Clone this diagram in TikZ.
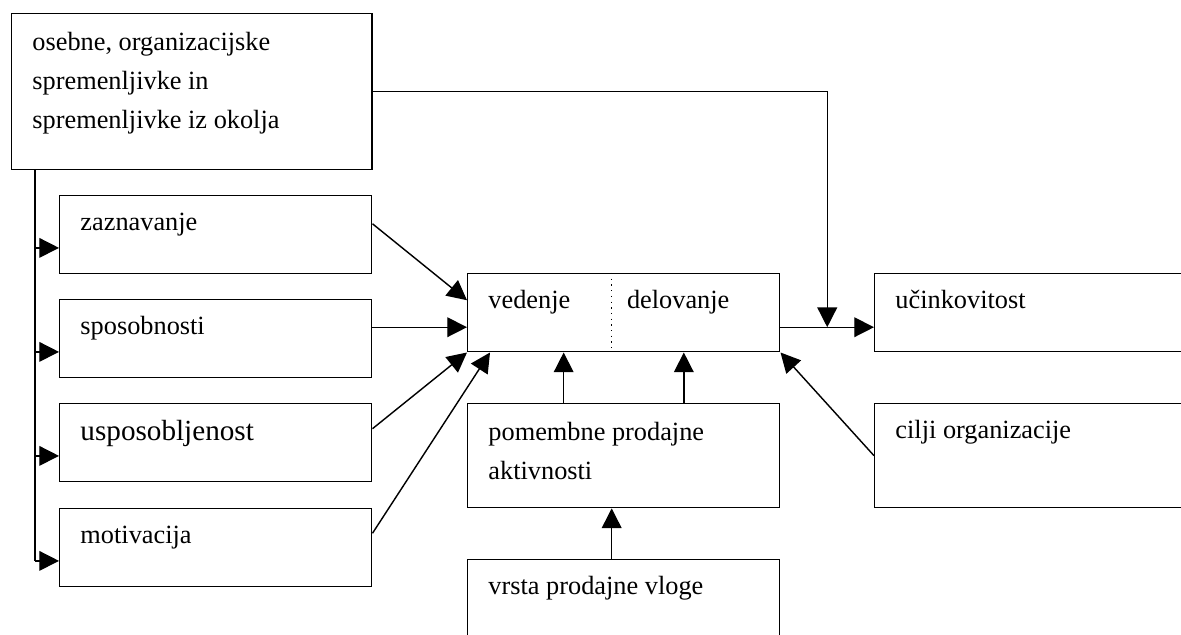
\documentclass[tikz,border=0pt]{standalone}
\usepackage{fontspec}
\setmainfont{Liberation Serif}
\usetikzlibrary{arrows.meta,calc}

\tikzset{
  box/.style={draw, line width=0.65pt, anchor=north west, inner sep=0pt,
    minimum width=142.3pt, minimum height=35.6pt},
  txt/.style={anchor=base west, inner sep=0pt, align=left,
    font=\fontsize{12}{17.8}\selectfont},
  arr/.style={-{Triangle[length=9pt,width=9pt]}, line width=0.65pt},
}

\begin{document}
\begin{tikzpicture}[x=0.456pt, y=-0.456pt]
    \clip (0,0) rectangle (1181,635);
    % boxes
    \node[box, minimum width=164.2pt, minimum height=71.1pt] (osebne) at (11,13) {};
    \node[box] (zazn) at (59,195) {};
    \node[box] (spos) at (59,299) {};
    \node[box] (usp) at (59,403) {};
    \node[box] (motiv) at (59,508) {};
    \node[box] (beh) at (467,273) {};
    \node[box, minimum height=47.4pt] (akt) at (467,403) {};
    \node[box, minimum height=46pt] (vloga) at (467,559) {};
    \node[box, minimum width=150.5pt] (ucin) at (874,273) {};
    \node[box, minimum width=150.5pt, minimum height=47.4pt] (cilji) at (874,403) {};
    % texts (base is the last line)
    \node[txt] (osebne-t) at ([shift={(9.6pt,-52.5pt)}]osebne.north west)
        {osebne, organizacijske\\spremenljivke in\\spremenljivke iz okolja};
    \node[txt] (zazn-t) at ([shift={(9.6pt,-16.4pt)}]zazn.north west) {zaznavanje};
    \node[txt] (spos-t) at ([shift={(9.6pt,-16.4pt)}]spos.north west) {sposobnosti};
    \node[txt, font=\fontsize{13.3}{16}\selectfont] (usp-t)
        at ([shift={(9.6pt,-17.3pt)}]usp.north west) {usposobljenost};
    \node[txt] (motiv-t) at ([shift={(9.6pt,-16.2pt)}]motiv.north west) {motivacija};
    \node[txt] (beh-t) at ([shift={(9.6pt,-16.4pt)}]beh.north west) {vedenje};
    \node[txt] (delo-t) at ([shift={(1.3pt,-16.4pt)}]beh.north) {delovanje};
    \node[txt] (akt-t) at ([shift={(9.6pt,-34.7pt)}]akt.north west)
        {pomembne prodajne\\aktivnosti};
    \node[txt] (vloga-t) at ([shift={(9.6pt,-16.4pt)}]vloga.north west) {vrsta prodajne vloge};
    \node[txt] (ucin-t) at ([shift={(9.6pt,-16pt)}]ucin.north west) {učinkovitost};
    \node[txt] (cilji-t) at ([shift={(9.6pt,-16pt)}]cilji.north west) {cilji organizacije};
    % divider in the middle box
    \draw[dotted, line width=0.6pt] ([xshift=-5.5pt]beh.north) -- ([xshift=-5.5pt]beh.south);
    % trunk on the left
    \coordinate (trunk) at ([xshift=10.9pt]osebne.south west);
    \foreach \b in {zazn,spos,usp,motiv}
        \coordinate (\b-in) at ([yshift=-6pt]\b.west);
    \draw[line width=0.65pt] (trunk) -- (trunk |- motiv-in);
    \foreach \b in {zazn,spos,usp,motiv}
        \draw[arr] (trunk |- \b-in) -- (\b-in);
    % into the middle box
    \coordinate (beh-in) at ([yshift=-6.6pt]beh.west);
    \draw[arr] ([yshift=5pt]zazn.east) -- ([yshift=5.7pt]beh.west);
    \draw[arr] (spos.east |- beh-in) -- (beh-in);
    \draw[arr] ([yshift=6.4pt]usp.east) -- (beh.south west);
    \draw[arr] ([yshift=6.6pt]motiv.east) -- ([xshift=10.5pt]beh.south west);
    \draw[arr] ([xshift=-27.4pt]akt.north) -- ([xshift=-27.4pt]beh.south);
    \draw[arr] ([xshift=27.4pt]akt.north) -- ([xshift=27.4pt]beh.south);
    \draw[arr] ([xshift=-5.5pt]vloga.north) -- ([xshift=-5.5pt]akt.south);
    \draw[arr] (cilji.west) -- (beh.south east);
    % out of the middle box
    \coordinate (beh-out) at ([yshift=-6.6pt]beh.east);
    \draw[arr] (beh-out) -- (ucin.west |- beh-out);
    \coordinate (join) at ($(beh-out)!0.5!(ucin.west |- beh-out)$);
    \draw[arr] (osebne.east) -| (join);
\end{tikzpicture}
\end{document}
